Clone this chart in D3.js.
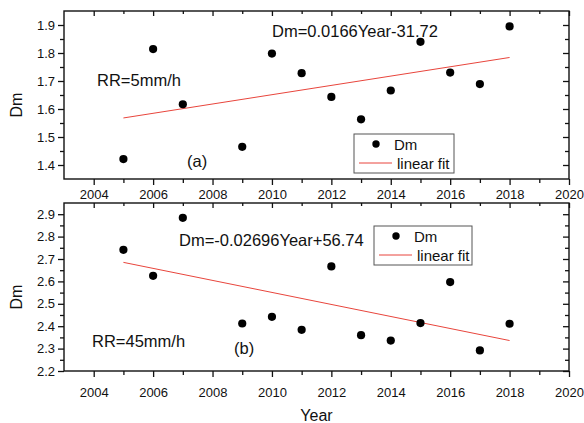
<!DOCTYPE html>
<html>
<head>
<meta charset="utf-8">
<script src="https://cdn.jsdelivr.net/npm/d3@7"></script>
<style>
  body { margin: 0; background: #fff; }
  svg text { font-family: "Liberation Sans", Arial, sans-serif; fill: #111; }
</style>
</head>
<body>
<div id="chart"></div>
<script>
// Data
var years = [2005, 2006, 2007, 2009, 2010, 2011, 2012, 2013, 2014, 2015, 2016, 2017, 2018];
var dmRR5 = [1.421, 1.814, 1.617, 1.465, 1.798, 1.728, 1.643, 1.563, 1.666, 1.840, 1.730, 1.689, 1.895];
var dmRR45 = [2.741, 2.625, 2.884, 2.412, 2.442, 2.384, 2.667, 2.360, 2.336, 2.414, 2.597, 2.292, 2.411];

// linear fit end points
var fitYears = [2005, 2018];
var fitRR5 = [1.568, 1.784];
var fitRR45 = [2.685, 2.336];

// ticks
var yearTicks = [2004, 2006, 2008, 2010, 2012, 2014, 2016, 2018, 2020];
var yearMinor = [2005, 2007, 2009, 2011, 2013, 2015, 2017, 2019];
var dmTicksA = [1.4, 1.5, 1.6, 1.7, 1.8, 1.9];
var dmMinorA = [1.45, 1.55, 1.65, 1.75, 1.85];
var dmTicksB = [2.2, 2.3, 2.4, 2.5, 2.6, 2.7, 2.8, 2.9];
var dmMinorB = [2.25, 2.35, 2.45, 2.55, 2.65, 2.75, 2.85];

var svgWidth = 584;
var svgHeight = 423;
var left = 64, right = 569;

var svg = d3.select("#chart")
  .append("svg")
  .attr("width", svgWidth)
  .attr("height", svgHeight);

var xScale = d3.scaleLinear()
  .domain([2003, 2020])
  .range([left, right]);

var panels = [
  {
    top: 11, bottom: 179, domain: [1.35, 1.95],
    values: dmRR5, fit: fitRR5, ticks: dmTicksA, minor: dmMinorA,
    xLabelDy: 17,
    eq: "Dm=0.0166Year-31.72", eqPos: [272, 37],
    rr: "RR=5mm/h", rrPos: [97, 86],
    tag: "(a)", tagPos: [187, 167],
    legend: { x: 354, y: 134, w: 100, h: 39 }
  },
  {
    top: 203, bottom: 371, domain: [2.2, 2.95],
    values: dmRR45, fit: fitRR45, ticks: dmTicksB, minor: dmMinorB,
    xLabelDy: 22.5,
    eq: "Dm=-0.02696Year+56.74", eqPos: [179, 246],
    rr: "RR=45mm/h", rrPos: [92, 346.5],
    tag: "(b)", tagPos: [234, 354],
    legend: { x: 374, y: 226, w: 98, h: 39 }
  }
];

function styleAxis(g) {
  g.select(".domain").remove();
  g.selectAll(".tick line").attr("stroke", "#111").attr("stroke-width", 1.3);
}

function drawPanel(p) {
  var yScale = d3.scaleLinear()
    .domain(p.domain)
    .range([p.bottom, p.top]);

  var g = svg.append("g");

  // bottom axis, ticks outward
  g.append("g")
    .attr("transform", `translate(0, ${p.bottom})`)
    .call(d3.axisBottom(xScale).tickValues(yearTicks).tickSize(6).tickPadding(p.xLabelDy - 12).tickFormat(d3.format("d")))
    .call(styleAxis)
    .selectAll("text").attr("font-size", "13px").attr("fill", "#111");
  g.append("g")
    .attr("transform", `translate(0, ${p.bottom})`)
    .call(d3.axisBottom(xScale).tickValues(yearMinor).tickSize(4).tickFormat(""))
    .call(styleAxis);

  // top axis, ticks inward
  g.append("g")
    .attr("transform", `translate(0, ${p.top})`)
    .call(d3.axisTop(xScale).tickValues(yearTicks).tickSize(-5).tickFormat(""))
    .call(styleAxis);
  g.append("g")
    .attr("transform", `translate(0, ${p.top})`)
    .call(d3.axisTop(xScale).tickValues(yearMinor).tickSize(-3).tickFormat(""))
    .call(styleAxis);

  // left axis, ticks outward
  g.append("g")
    .attr("transform", `translate(${left}, 0)`)
    .call(d3.axisLeft(yScale).tickValues(p.ticks).tickSize(6).tickPadding(3).tickFormat(d3.format(".1f")))
    .call(styleAxis)
    .selectAll("text").attr("font-size", "13px").attr("fill", "#111");
  g.append("g")
    .attr("transform", `translate(${left}, 0)`)
    .call(d3.axisLeft(yScale).tickValues(p.minor).tickSize(4).tickFormat(""))
    .call(styleAxis);

  // right axis, ticks inward
  g.append("g")
    .attr("transform", `translate(${right}, 0)`)
    .call(d3.axisRight(yScale).tickValues(p.ticks).tickSize(-6).tickFormat(""))
    .call(styleAxis);
  g.append("g")
    .attr("transform", `translate(${right}, 0)`)
    .call(d3.axisRight(yScale).tickValues(p.minor).tickSize(-4).tickFormat(""))
    .call(styleAxis);

  // frame
  g.append("rect")
    .attr("x", left)
    .attr("y", p.top)
    .attr("width", right - left)
    .attr("height", p.bottom - p.top)
    .attr("fill", "none")
    .attr("stroke", "#111")
    .attr("stroke-width", 1.4);

  // fit line
  var line = d3.line()
    .x(d => xScale(d[0]))
    .y(d => yScale(d[1]));
  g.append("path")
    .datum(fitYears.map((d, i) => [d, p.fit[i]]))
    .attr("d", line)
    .attr("fill", "none")
    .attr("stroke", "#e8453c")
    .attr("stroke-width", 1);

  // points
  g.selectAll("circle.pt")
    .data(years.map((d, i) => [d, p.values[i]]))
    .enter()
    .append("circle")
    .attr("class", "pt")
    .attr("cx", d => xScale(d[0]))
    .attr("cy", d => yScale(d[1]))
    .attr("r", 4.1)
    .attr("fill", "#000");

  // annotations
  g.append("text").attr("x", p.eqPos[0]).attr("y", p.eqPos[1])
    .attr("font-size", "16.5px").text(p.eq);
  g.append("text").attr("x", p.rrPos[0]).attr("y", p.rrPos[1])
    .attr("font-size", "16.5px").text(p.rr);
  g.append("text").attr("x", p.tagPos[0]).attr("y", p.tagPos[1])
    .attr("font-size", "16.5px").text(p.tag);

  // y label
  g.append("text")
    .attr("transform", `translate(22, ${(p.top + p.bottom) / 2 + 10}) rotate(-90)`)
    .attr("text-anchor", "middle")
    .attr("font-size", "16px")
    .text("Dm");

  // legend
  var lg = g.append("g").attr("transform", `translate(${p.legend.x}, ${p.legend.y})`);
  lg.append("rect")
    .attr("width", p.legend.w)
    .attr("height", p.legend.h)
    .attr("fill", "#fff")
    .attr("stroke", "#555")
    .attr("stroke-width", 1);
  lg.append("circle")
    .attr("cx", 22)
    .attr("cy", 10)
    .attr("r", 3.7)
    .attr("fill", "#000");
  lg.append("text")
    .attr("x", 40).attr("y", 15.5)
    .attr("font-size", "15px")
    .text("Dm");
  lg.append("line")
    .attr("x1", 5).attr("x2", 38)
    .attr("y1", 29).attr("y2", 29)
    .attr("stroke", "#e8453c")
    .attr("stroke-width", 1);
  lg.append("text")
    .attr("x", 43).attr("y", 34.5)
    .attr("font-size", "15px")
    .text("linear fit");
}

panels.forEach(drawPanel);

// x axis title
svg.append("text")
  .attr("x", (left + right) / 2)
  .attr("y", 421)
  .attr("text-anchor", "middle")
  .attr("font-size", "16px")
  .text("Year");
</script>
</body>
</html>
